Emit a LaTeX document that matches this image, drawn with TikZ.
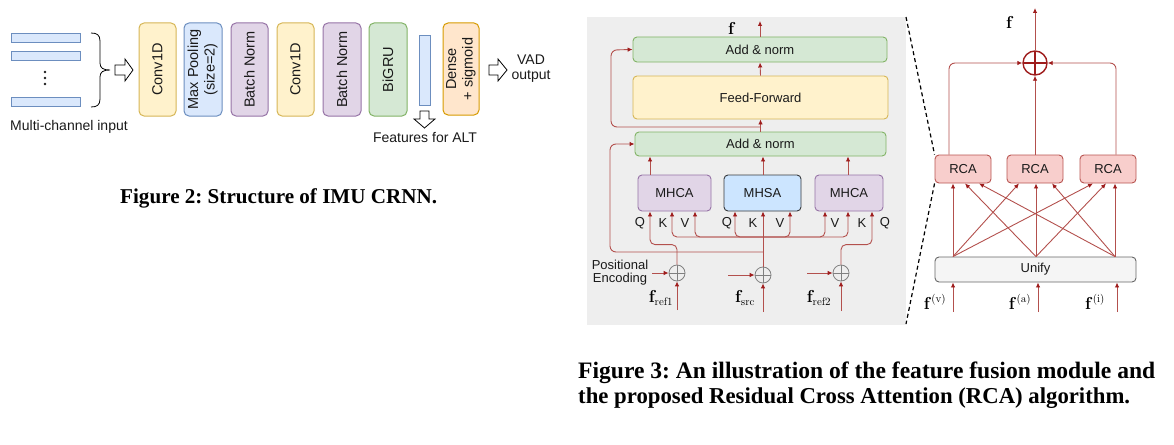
\documentclass[tikz,border=0pt]{standalone}
\usepackage[no-math]{fontspec}
\setmainfont{Liberation Sans}
\newfontfamily\capfont{Liberation Serif}
\usepackage{graphicx}
\usetikzlibrary{arrows.meta}
\frenchspacing
\definecolor{yfill}{HTML}{FFF2CC}\definecolor{ystroke}{HTML}{D6B656}
\definecolor{bfill}{HTML}{DAE8FC}\definecolor{bstroke}{HTML}{6C8EBF}
\definecolor{pfill}{HTML}{E1D5E7}\definecolor{pstroke}{HTML}{9673A6}
\definecolor{gfill}{HTML}{D5E8D4}\definecolor{gstroke}{HTML}{82B366}
\definecolor{ofill}{HTML}{FFE6CC}\definecolor{ostroke}{HTML}{D79B00}
\definecolor{rfill}{HTML}{F8CECC}\definecolor{rstroke}{HTML}{B85450}
\definecolor{ufill}{HTML}{F5F5F5}\definecolor{ustroke}{HTML}{666666}
\definecolor{sfill}{HTML}{CCE5FF}\definecolor{sstroke}{HTML}{36393D}
\definecolor{bgc}{HTML}{EEEEEE}
\definecolor{lnc}{HTML}{B3504D}
\definecolor{arrh}{HTML}{9E1C1C}
\definecolor{txt}{HTML}{1A1A1A}
\begin{document}
\begin{tikzpicture}[x=1pt,y=-1pt,
  blk/.style={rounded corners=5pt, line width=1pt, inner sep=0pt, text=txt, font=\fontsize{14.5}{16.5}\selectfont},
  ybox/.style={blk, fill=yfill, draw=ystroke},
  bbox/.style={blk, fill=bfill, draw=bstroke},
  pbox/.style={blk, fill=pfill, draw=pstroke},
  gbox/.style={blk, fill=gfill, draw=gstroke},
  obox/.style={blk, fill=ofill, draw=ostroke},
  tall/.style={minimum width=37pt, minimum height=93pt},
  bar/.style={fill=bfill, draw=bstroke, line width=0.8pt, inner sep=0pt},
  hollow/.style={draw=black, fill=white, line width=0.8pt, line join=miter},
  lbl/.style={inner sep=0pt, text=txt, font=\fontsize{14}{16}\selectfont},
  sbl/.style={inner sep=0pt, text=txt, font=\fontsize{13}{15}\selectfont},
  mlbl/.style={inner sep=0pt, font=\fontsize{16}{19}\selectfont},
  fbox/.style={rounded corners=4pt, line width=0.9pt, inner sep=0pt, text=txt, font=\fontsize{13}{15}\selectfont},
  gbox2/.style={fbox, fill=gfill, draw=gstroke},
  ybox2/.style={fbox, fill=yfill, draw=ystroke},
  pbox2/.style={fbox, fill=pfill, draw=pstroke},
  sbox2/.style={fbox, fill=sfill, draw=sstroke},
  rbox/.style={fbox, fill=rfill, draw=rstroke},
  ubox/.style={fbox, fill=ufill, draw=ustroke},
  arr/.style={draw=lnc, line width=0.9pt, -{Latex[length=5pt,width=4.5pt,color=arrh]}},
  opl/.style={circle, draw=gray, line width=0.8pt, minimum size=16pt, inner sep=0pt,
    path picture={\draw[gray, line width=0.8pt] (path picture bounding box.north) -- (path picture bounding box.south) (path picture bounding box.west) -- (path picture bounding box.east);}},
  bigop/.style={circle, draw=arrh, line width=1.4pt, minimum size=24pt, inner sep=0pt,
    path picture={\draw[arrh, line width=1.4pt] (path picture bounding box.north) -- (path picture bounding box.south) (path picture bounding box.west) -- (path picture bounding box.east);}},
  captxt/.style={inner sep=0pt, anchor=west}
]
\useasboundingbox (0,0) rectangle (1174,444);

% ---------------- Figure 2 ----------------
\node[bar, minimum width=69pt, minimum height=9pt] (in1) at (45.5,37.5) {};
\node[bar, minimum width=69pt, minimum height=9pt] (in2) at (45.5,56) {};
\node[bar, minimum width=69pt, minimum height=9pt] (in4) at (45.5,102) {};
\fill[txt] (45,72) circle (1.3) (45,78) circle (1.3) (45,84) circle (1.3);
\draw[black, line width=0.8pt] (91,33) .. controls (97,33) and (100,35) .. (100,41) -- (100,63)
  .. controls (100,68) and (103,70) .. (110,70) .. controls (103,70) and (100,72) .. (100,77)
  -- (100,99) .. controls (100,105) and (97,107) .. (91,107);
\draw[hollow] (115,65) -- (125,65) -- (125,59) -- (133,70) -- (125,81) -- (125,75) -- (115,75) -- cycle;
\node[lbl] (mci) at (69,127) {Multi-channel input};

\node[ybox, tall] (conv1) at (157.5,69.5) {\rotatebox{90}{Conv1D}};
\node[bbox, minimum width=38pt, minimum height=93pt] (pool) at (203,69.5) {\rotatebox{90}{\begin{tabular}{@{}c@{}}Max Pooling\\(size=2)\end{tabular}}};
\node[pbox, tall] (bn1) at (249.5,69.5) {\rotatebox{90}{Batch Norm}};
\node[ybox, tall] (conv2) at (295.5,69.5) {\rotatebox{90}{Conv1D}};
\node[pbox, minimum width=38pt, minimum height=93pt] (bn2) at (342,69.5) {\rotatebox{90}{Batch Norm}};
\node[gbox, minimum width=38pt, minimum height=93pt] (gru) at (388,69.5) {\rotatebox{90}{BiGRU}};
\node[bar, minimum width=11pt, minimum height=70pt] (feat) at (424.5,70) {};
\node[obox, minimum width=36pt, minimum height=92pt] (dense) at (461,69) {\rotatebox{90}{\begin{tabular}{@{}c@{}}Dense\\+ sigmoid\end{tabular}}};
\draw[hollow] (489,65) -- (498,65) -- (498,59) -- (507,70) -- (498,81) -- (498,75) -- (489,75) -- cycle;
\node[lbl, align=center] (vad) at (531,69) {VAD\\[-1pt]output};
\draw[hollow] (420,111) -- (429,111) -- (429,119) -- (435,119) -- (424.5,128) -- (414,119) -- (420,119) -- cycle;
\node[lbl] (alt) at (425,138) {Features for ALT};

\node[captxt] (cap2) at (120,198) {\resizebox{317pt}{!}{\capfont\bfseries Figure 2: Structure of IMU CRNN.}};

% ---------------- Figure 3 ----------------
\fill[bgc] (587,17) rectangle (906,325);

\node[gbox2, minimum width=254pt, minimum height=25pt] (addT) at (760,49.5) {Add \& norm};
\node[ybox2, minimum width=255pt, minimum height=43pt] (ff) at (760.5,97.5) {Feed-Forward};
\node[gbox2, minimum width=251pt, minimum height=24pt] (addB) at (760.5,144) {Add \& norm};
\node[pbox2, minimum width=73pt, minimum height=36pt] (ca1) at (674.5,193) {MHCA};
\node[sbox2, minimum width=77pt, minimum height=36pt] (sa) at (762.5,193) {MHSA};
\node[pbox2, minimum width=68pt, minimum height=36pt] (ca2) at (849,193) {MHCA};
\node[opl] (o1) at (677,273) {};
\node[opl] (o2) at (763,275) {};
\node[opl] (o3) at (841,273) {};

\coordinate (xQ1) at (650,0); \coordinate (xK1) at (672,0); \coordinate (xV1) at (695,0);
\coordinate (xQ2) at (735,0); \coordinate (xK2) at (763,0); \coordinate (xV2) at (790,0);
\coordinate (xV3) at (825,0); \coordinate (xK3) at (848,0); \coordinate (xQ3) at (872,0);

\coordinate (fout) at (760,21);
\draw[arr] (addT.north) -- (fout);
\node[mlbl] (flab) at (732,29) {$\mathbf{f}$};
\draw[arr] (ff.north) -- (addT.south);
\draw[arr] (addB.north) -- (ff.south);
\coordinate (r2) at (760.5,127);
\draw[arr, rounded corners=6pt] (r2) -- (611,127) -- (611,50) -- (addT.west);
\coordinate (j1) at (763,252);
\draw[arr, rounded corners=6pt] (j1) -- (610,252) -- (610,144) -- (addB.west);

\draw[arr] (ca1.north -| xQ1) -- (addB.south -| xQ1);
\draw[arr] (sa.north -| xK2) -- (addB.south -| xK2);
\draw[arr] (ca2.north -| xK3) -- (addB.south -| xK3);

\draw[arr] (o2.north) -- (sa.south -| xK2);
\coordinate (j2) at (763,237);
\foreach \t/\n in {xK1/ca1, xV1/ca1, xQ2/sa, xV2/sa, xV3/ca2, xK3/ca2}
  \draw[arr, rounded corners=5pt] (j2) -| (\n.south -| \t);
\draw[arr, rounded corners=5pt] (o1.north) -- ++(0,-20) -| (ca1.south -| xQ1);
\draw[arr, rounded corners=5pt] (o3.north) -- ++(0,-20) -| (ca2.south -| xQ3);

\coordinate (pe) at (652,273); \coordinate (pm) at (728,275); \coordinate (pr) at (807,273);
\draw[arr] (pe) -- (o1.west);
\draw[arr] (pm) -- (o2.west);
\draw[arr] (pr) -- (o3.west);
\coordinate (b1) at (677,310); \coordinate (b2) at (763,312); \coordinate (b3) at (841,311);
\draw[arr] (b1) -- (o1.south);
\draw[arr] (b2) -- (o2.south);
\draw[arr] (b3) -- (o3.south);

\node[sbl] (lq1) at (640,223) {Q}; \node[sbl] (lk1) at (663,223) {K}; \node[sbl] (lv1) at (685,223) {V};
\node[sbl] (lq2) at (727,223) {Q}; \node[sbl] (lk2) at (753,223) {K}; \node[sbl] (lv2) at (780,223) {V};
\node[sbl] (lv3) at (835,223) {V}; \node[sbl] (lk3) at (862,223) {K}; \node[sbl] (lq3) at (885,223) {Q};
\node[sbl, align=center] (penc) at (620,272.5) {Positional\\[-2pt]Encoding};
\node[mlbl] (fr1) at (661,298) {$\mathbf{f}_{\mathrm{ref1}}$};
\node[mlbl] (fsr) at (745,298) {$\mathbf{f}_{\mathrm{src}}$};
\node[mlbl] (fr2) at (819,298) {$\mathbf{f}_{\mathrm{ref2}}$};

% RCA part
\node[rbox, minimum width=56pt, minimum height=28pt] (rca1) at (963,169) {RCA};
\node[rbox, minimum width=56pt, minimum height=28pt] (rca2) at (1035,169) {RCA};
\node[rbox, minimum width=56pt, minimum height=28pt] (rca3) at (1108,169) {RCA};
\node[bigop] (sum) at (1035,63) {};
\node[ubox, minimum width=201pt, minimum height=25pt] (unify) at (1035.5,269.5) {Unify};

\coordinate (fo2) at (1035,8);
\draw[arr] (sum.north) -- (fo2);
\node[mlbl] (flab2) at (1010,23) {$\mathbf{f}$};
\coordinate (xa) at (949,0); \coordinate (xc) at (1116,0);
\draw[arr, rounded corners=6pt] (rca1.north -| xa) |- (sum.west);
\draw[arr, rounded corners=6pt] (rca3.north -| xc) |- (sum.east);
\draw[arr] (rca2.north) -- (sum.south);

\coordinate (sv) at (953,0); \coordinate (sa0) at (1036,0); \coordinate (si) at (1115,0);
\coordinate (t11) at (953,0); \coordinate (t12) at (965,0); \coordinate (t13) at (979,0);
\coordinate (t21) at (1019,0); \coordinate (t22) at (1036,0); \coordinate (t23) at (1052,0);
\coordinate (t31) at (1093,0); \coordinate (t32) at (1106,0); \coordinate (t33) at (1115,0);
\draw[arr] (unify.north -| sv) -- (rca1.south -| t11);
\draw[arr] (unify.north -| sv) -- (rca2.south -| t21);
\draw[arr] (unify.north -| sv) -- (rca3.south -| t31);
\draw[arr] (unify.north -| sa0) -- (rca1.south -| t12);
\draw[arr] (unify.north -| sa0) -- (rca2.south -| t22);
\draw[arr] (unify.north -| sa0) -- (rca3.south -| t32);
\draw[arr] (unify.north -| si) -- (rca1.south -| t13);
\draw[arr] (unify.north -| si) -- (rca2.south -| t23);
\draw[arr] (unify.north -| si) -- (rca3.south -| t33);

\coordinate (u1) at (953,312); \coordinate (u2) at (1038,312); \coordinate (u3) at (1117,312);
\draw[arr] (u1) -- (unify.south -| u1);
\draw[arr] (u2) -- (unify.south -| u2);
\draw[arr] (u3) -- (unify.south -| u3);
\node[mlbl] (fv) at (935,302) {$\mathbf{f}^{(\mathrm{v})}$};
\node[mlbl] (fa) at (1020,302) {$\mathbf{f}^{(\mathrm{a})}$};
\node[mlbl] (fi) at (1095,302) {$\mathbf{f}^{(\mathrm{i})}$};

\coordinate (dtop) at (906,17); \coordinate (dbot) at (906,324);
\draw[black, line width=1.2pt, dash pattern=on 4pt off 3pt] (dtop) -- (rca1.north west);
\draw[black, line width=1.2pt, dash pattern=on 4pt off 3pt] (rca1.south west) -- (dbot);

\node[captxt] (cap3a) at (578,373) {\resizebox{577pt}{!}{\capfont\bfseries Figure 3: An illustration of the feature fusion module and}};
\node[captxt] (cap3b) at (578,398) {\resizebox{552pt}{!}{\capfont\bfseries the proposed Residual Cross Attention (RCA) algorithm.}};
\end{tikzpicture}
\end{document}
